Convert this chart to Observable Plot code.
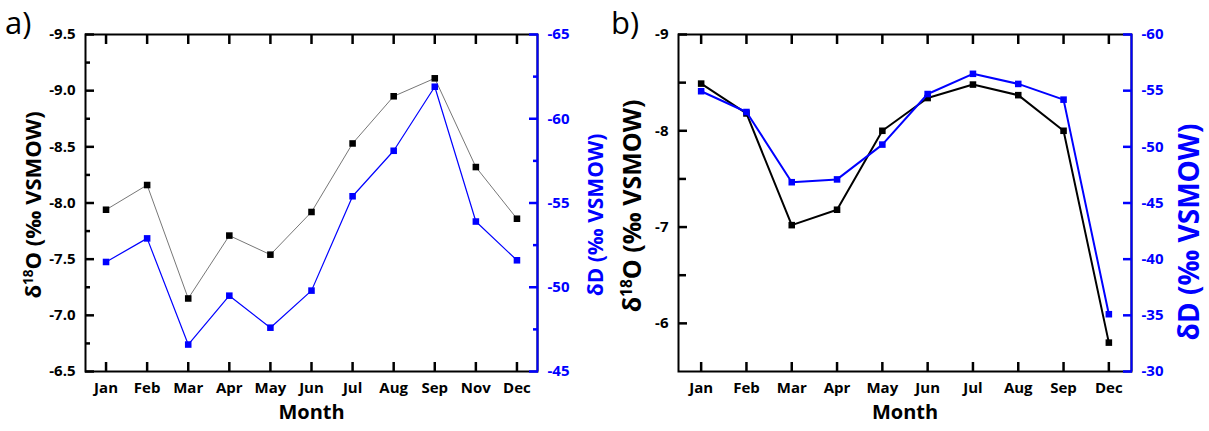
<!DOCTYPE html>
<html><head><meta charset="utf-8">
<script src="https://cdn.jsdelivr.net/npm/d3@7"></script>
<script src="https://cdn.jsdelivr.net/npm/@observablehq/plot@0.6"></script>
<style>
body{margin:0;background:#fff;}
#root{position:relative;width:1209px;height:431px;overflow:hidden;font-family:"Open Sans",sans-serif;}
.panel{position:absolute;top:0;height:431px;}
.panel svg{position:absolute;left:0;top:0;}
.lab{position:absolute;font-weight:700;white-space:nowrap;transform:translate(-50%,-50%) rotate(-90deg);line-height:1;}
.lab .sup{font-size:0.62em;position:relative;top:-0.6em;}
.tag{position:absolute;font-size:31px;line-height:1;font-weight:400;}
</style></head><body><div id="root"></div>
<script>
// ---- data ----
const monthsA = ["Jan","Feb","Mar","Apr","May","Jun","Jul","Aug","Sep","Nov","Dec"];
const o18A = [-7.94,-8.16,-7.15,-7.71,-7.54,-7.92,-8.53,-8.95,-9.11,-8.32,-7.86];
const dDA  = [-51.5,-52.9,-46.6,-49.5,-47.6,-49.8,-55.4,-58.1,-61.9,-53.9,-51.6];
const monthsB = ["Jan","Feb","Mar","Apr","May","Jun","Jul","Aug","Sep","Dec"];
const o18B = [-8.49,-8.18,-7.02,-7.18,-8.00,-8.34,-8.48,-8.37,-8.00,-5.80];
const dDB  = [-54.95,-53.1,-46.85,-47.1,-50.2,-54.7,-56.5,-55.6,-54.2,-35.1];
const leftTicksA = [-9.5,-9.0,-8.5,-8.0,-7.5,-7.0,-6.5];
const leftMinorA = [-9.25,-8.75,-8.25,-7.75,-7.25,-6.75];
const rightTicksA = [-65,-60,-55,-50,-45];
const rightMinorA = [-62.5,-57.5,-52.5,-47.5];
const leftTicksB = [-9,-8,-7,-6];
const leftMinorB = [-8.5,-7.5,-6.5];
const rightTicksB = [-60,-55,-50,-45,-40,-35,-30];
const rightMinorB = [];

const BLUE = "#0000ff";
const H = 431, MT = 34, MB = 60, TW = 2.5;
const root = document.getElementById("root");
const blank = () => "";

function panel(o) {
  const div = document.createElement("div");
  div.className = "panel";
  div.style.left = o.left + "px";
  div.style.width = o.width + "px";
  root.appendChild(div);
  const n = o.months.length;
  const idx = o.months.map((m, i) => i);
  const data = o.months.map((m, i) => ({i, m, o: o.o18[i], d: o.dD[i]}));
  const common = {
    width: o.width, height: H, marginLeft: o.mL, marginRight: o.mR, marginTop: MT, marginBottom: MB,
    style: {fontFamily: "'Open Sans', sans-serif", fontSize: "15px", fontWeight: "700", background: "transparent", overflow: "visible"}
  };
  const base = Plot.plot({
    ...common,
    x: {type: "linear", domain: [-0.5, n - 0.5]},
    y: {domain: o.yDom},
    marks: [
      Plot.frame({stroke: "black", strokeWidth: 2}),
      Plot.axisX(idx, {anchor: "bottom", tickSize: 0, tickPadding: 11, tickFormat: i => o.months[i], label: null}),
      Plot.axisX(idx, {anchor: "bottom", tickSize: 9, dy: -9, strokeWidth: TW, stroke: "black", tickFormat: blank, label: null}),
      Plot.axisX(idx, {anchor: "top", tickSize: 9, dy: 9, strokeWidth: TW, stroke: "black", tickFormat: blank, label: null}),
      Plot.axisY(o.yTicks, {anchor: "left", tickSize: o.majL, dx: o.majL, tickPadding: 10, strokeWidth: TW, stroke: "black", tickFormat: o.yFmt, label: null}),
      Plot.axisY(o.yMinor, {anchor: "left", tickSize: o.minL, dx: o.minL, strokeWidth: TW, stroke: "black", tickFormat: blank, label: null}),
      Plot.line(data, {x: "i", y: "o", stroke: o.blackLine, strokeWidth: o.lw}),
      Plot.dot(data, {x: "i", y: "o", symbol: "square", fill: "black", r: 3.7}),
      Plot.text(["Month"], {text: d => d, frameAnchor: "bottom", dy: 47, lineAnchor: "bottom", fontSize: 20, fontWeight: 700})
    ]
  });
  const over = Plot.plot({
    ...common,
    x: {type: "linear", domain: [-0.5, n - 0.5], axis: null},
    y: {domain: o.rDom},
    marks: [
      Plot.ruleX([n - 0.5], {stroke: BLUE, strokeWidth: 2}),
      Plot.axisY(o.rTicks, {anchor: "right", tickSize: o.majL, dx: -o.majL, tickPadding: 10, strokeWidth: TW, tickFormat: d => String(d), color: BLUE, label: null}),
      Plot.axisY(o.rMinor, {anchor: "right", tickSize: o.minL, dx: -o.minL, strokeWidth: TW, tickFormat: blank, color: BLUE, label: null}),
      Plot.line(data, {x: "i", y: "d", stroke: BLUE, strokeWidth: o.lwB}),
      Plot.dot(data, {x: "i", y: "d", symbol: "square", fill: BLUE, r: 3.7})
    ]
  });
  div.appendChild(base);
  div.appendChild(over);
}

panel({left: 0, width: 604, mL: 85, mR: 67, months: monthsA, o18: o18A, dD: dDA,
  yDom: [-6.5, -9.5], yTicks: leftTicksA, yMinor: leftMinorA, yFmt: d => d.toFixed(1),
  rDom: [-45, -65], rTicks: rightTicksA, rMinor: rightMinorA,
  majL: 9, minL: 5, blackLine: "#777", lw: 1, lwB: 1.2});
panel({left: 604, width: 605, mL: 74, mR: 78, months: monthsB, o18: o18B, dD: dDB,
  yDom: [-5.5, -9], yTicks: leftTicksB, yMinor: leftMinorB, yFmt: d => String(d),
  rDom: [-30, -60], rTicks: rightTicksB, rMinor: rightMinorB,
  majL: 9, minL: 8, blackLine: "black", lw: 2, lwB: 2});

function label(html, cx, cy, size, color) {
  const d = document.createElement("div");
  d.className = "lab";
  d.innerHTML = html;
  d.style.left = cx + "px"; d.style.top = cy + "px";
  d.style.fontSize = size + "px"; d.style.color = color;
  root.appendChild(d);
}
label('δ<span class="sup">18</span>O (‰ VSMOW)', 32, 205, 22, "black");
label('δD (‰ VSMOW)', 595, 215, 21, BLUE);
label('δ<span class="sup">18</span>O (‰ VSMOW)', 631, 206, 25, "black");
label('δD (‰ VSMOW)', 1188, 232, 28, BLUE);

function tag(t, x, y) {
  const d = document.createElement("div");
  d.className = "tag"; d.textContent = t;
  d.style.left = x + "px"; d.style.top = y + "px";
  root.appendChild(d);
}
tag("a)", 5, 7);
tag("b)", 611, 7);
</script></body></html>
